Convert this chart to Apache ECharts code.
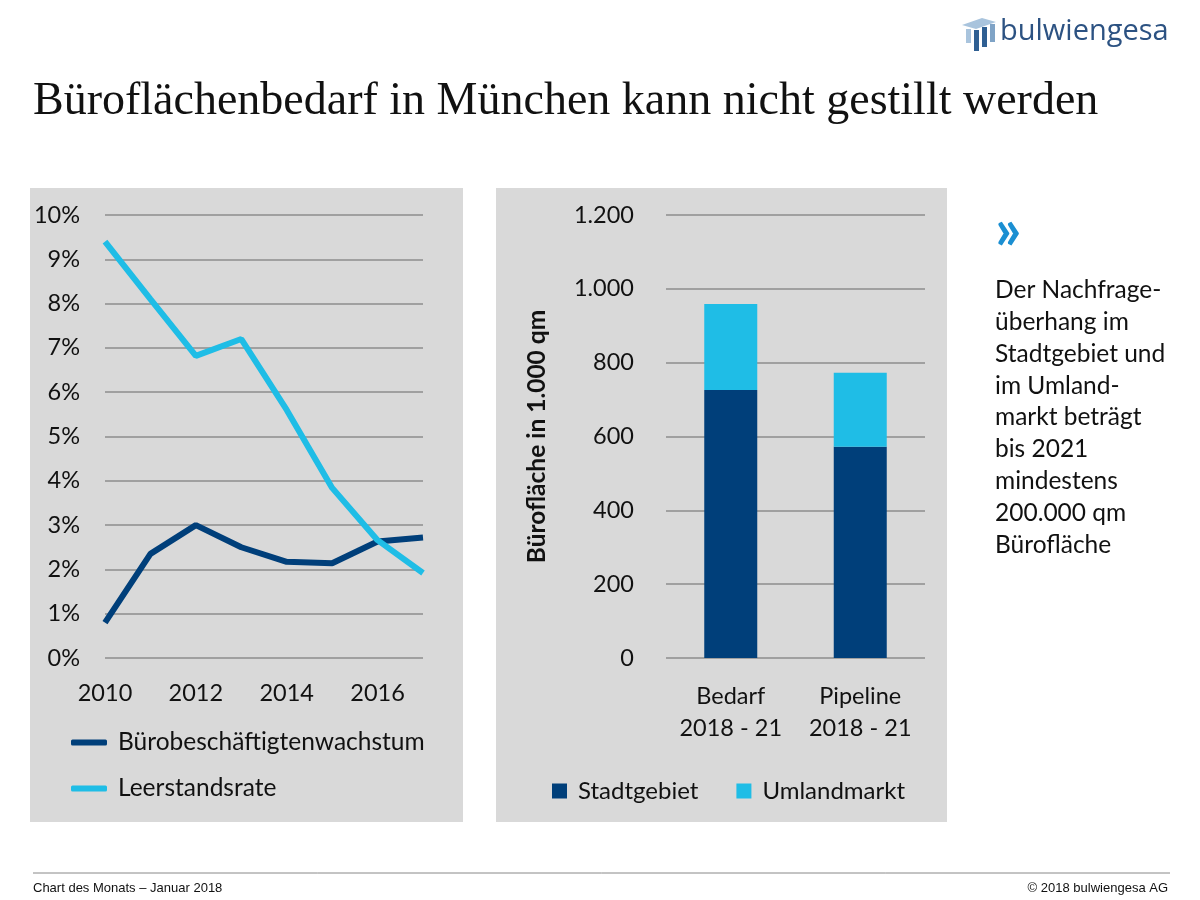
<!DOCTYPE html>
<html><head><meta charset="utf-8">
<script src="https://cdn.jsdelivr.net/npm/echarts@6/dist/echarts.min.js"></script>
<style>html,body{margin:0;padding:0;background:#fff}#c{width:1200px;height:900px}</style>
</head><body><div id="c"></div>
<script>
const years = ['2010','2011','2012','2013','2014','2015','2016','2017'];
const growth = [0.8, 2.35, 3.0, 2.5, 2.17, 2.14, 2.63, 2.72];
const vacancy = [9.4, 8.1, 6.82, 7.2, 5.6, 3.84, 2.66, 1.92];
const lineYTicks = [0,1,2,3,4,5,6,7,8,9,10];
const barCats = ['Bedarf\n2018 - 21', 'Pipeline\n2018 - 21'];
const stadt = [726, 572];
const umland = [233, 201];
const barYTicks = [0,200,400,600,800,1000,1200];

const DARK = '#003f7a', LIGHT = '#1fbde6', GRID = '#8c8c8c', PANEL = '#d9d9d9';
const FONT = 'Lato';
const chart = echarts.init(document.getElementById('c'), null, {renderer: 'canvas'});
const fmtDE = v => String(v).replace(/\B(?=(\d{3})+(?!\d))/g, '.');

chart.setOption({
  animation: false,
  textStyle: {fontFamily: FONT, color: '#111'},
  graphic: [
    {type: 'rect', z: -10, shape: {x: 30, y: 188, width: 433, height: 634}, style: {fill: PANEL}},
    {type: 'rect', z: -10, shape: {x: 496, y: 188, width: 451, height: 634}, style: {fill: PANEL}},
    {type: 'text', left: 33, top: 79, style: {text: 'Büroflächenbedarf in München kann nicht gestillt werden', font: '46px "Liberation Serif"', fill: '#111'}},
    // logo icon
    {type: 'polygon', shape: {points: [[962,25],[982,18],[996,22],[976,29]]}, style: {fill: '#a9c4dd'}},
    {type: 'rect', shape: {x: 966, y: 29, width: 5, height: 14}, style: {fill: '#a9c4dd'}},
    {type: 'rect', shape: {x: 974, y: 30, width: 5, height: 21}, style: {fill: '#2f5f92'}},
    {type: 'rect', shape: {x: 982, y: 27, width: 5, height: 20}, style: {fill: '#2f5f92'}},
    {type: 'rect', shape: {x: 990, y: 24, width: 5, height: 18}, style: {fill: '#7fa3c6'}},
    {type: 'text', left: 1000, top: 17, style: {text: 'bulwiengesa', font: '29px "Open Sans"', fill: '#2c5282'}},
    // right text
    {type: 'text', left: 995, top: 201, style: {text: '»', font: 'bold 58px ' + FONT, fill: '#1b8fd2'}},
    {type: 'text', left: 995, top: 274, style: {text: 'Der Nachfrage-\nüberhang im\nStadtgebiet und\nim Umland-\nmarkt beträgt\nbis 2021\nmindestens\n200.000 qm\nBürofläche', font: '24.5px ' + FONT, fill: '#111', lineHeight: 31.9}},
    // footer
    {type: 'line', shape: {x1: 33, y1: 873, x2: 1170, y2: 873}, style: {stroke: '#888', lineWidth: 1}},
    {type: 'text', left: 33, top: 882, style: {text: 'Chart des Monats – Januar 2018', font: '13px "Liberation Sans Narrow", "Liberation Sans"', fill: '#111'}},
    {type: 'text', right: 32, top: 882, style: {text: '© 2018 bulwiengesa AG', font: '13px "Liberation Sans Narrow", "Liberation Sans"', fill: '#111'}}
  ],
  grid: [
    {left: 105, top: 215, width: 318, height: 443},
    {left: 666, top: 215, width: 259, height: 443}
  ],
  legend: [
    {data: ['Bürobeschäftigtenwachstum', 'Leerstandsrate'], orient: 'vertical', left: 66, top: 725, itemGap: 21,
     icon: 'roundRect', itemWidth: 36, itemHeight: 6,
     textStyle: {fontSize: 24.5, fontFamily: FONT, color: '#111', padding: [0,0,0,6]}},
    {data: ['Stadtgebiet', 'Umlandmarkt'], orient: 'horizontal', left: 547, top: 774, itemGap: 38,
     icon: 'rect', itemWidth: 15, itemHeight: 15,
     textStyle: {fontSize: 24, fontFamily: FONT, color: '#111', padding: [0,0,0,6]}}
  ],
  xAxis: [
    {gridIndex: 0, type: 'category', data: years, boundaryGap: false,
     axisLine: {show: false}, axisTick: {show: false},
     axisLabel: {interval: 1, fontSize: 23.5, margin: 23, color: '#111', fontFamily: FONT}},
    {gridIndex: 1, type: 'category', data: barCats,
     axisLine: {show: false}, axisTick: {show: false},
     axisLabel: {interval: 0, hideOverlap: false, fontSize: 23.5, margin: 22, color: '#111', lineHeight: 32, fontFamily: FONT}}
  ],
  yAxis: [
    {gridIndex: 0, type: 'value', min: lineYTicks[0], max: lineYTicks[lineYTicks.length-1], interval: 1,
     axisLine: {show: false}, axisTick: {show: false},
     splitLine: {lineStyle: {color: GRID, width: 1.5}},
     axisLabel: {formatter: v => v + '%', fontSize: 23.5, margin: 25, color: '#111', fontFamily: FONT}},
    {gridIndex: 1, type: 'value', min: barYTicks[0], max: barYTicks[barYTicks.length-1], interval: 200,
     axisLine: {show: false}, axisTick: {show: false},
     splitLine: {lineStyle: {color: GRID, width: 1.5}},
     name: 'Bürofläche in 1.000 qm', nameLocation: 'middle', nameRotate: 90, nameGap: 116,
     nameTextStyle: {fontSize: 24.5, fontWeight: 'bold', color: '#111', fontFamily: FONT},
     axisLabel: {formatter: v => fmtDE(v), fontSize: 23.5, margin: 32, color: '#111', fontFamily: FONT}}
  ],
  series: [
    {name: 'Bürobeschäftigtenwachstum', type: 'line', xAxisIndex: 0, yAxisIndex: 0, data: growth,
     showSymbol: false, lineStyle: {color: DARK, width: 6}, itemStyle: {color: DARK}, z: 3},
    {name: 'Leerstandsrate', type: 'line', xAxisIndex: 0, yAxisIndex: 0, data: vacancy,
     showSymbol: false, lineStyle: {color: LIGHT, width: 6}, itemStyle: {color: LIGHT}, z: 4},
    {name: 'Stadtgebiet', type: 'bar', stack: 'a', xAxisIndex: 1, yAxisIndex: 1, data: stadt,
     barWidth: 53, itemStyle: {color: DARK}},
    {name: 'Umlandmarkt', type: 'bar', stack: 'a', xAxisIndex: 1, yAxisIndex: 1, data: umland,
     barWidth: 53, itemStyle: {color: LIGHT}}
  ]
});
</script></body></html>
